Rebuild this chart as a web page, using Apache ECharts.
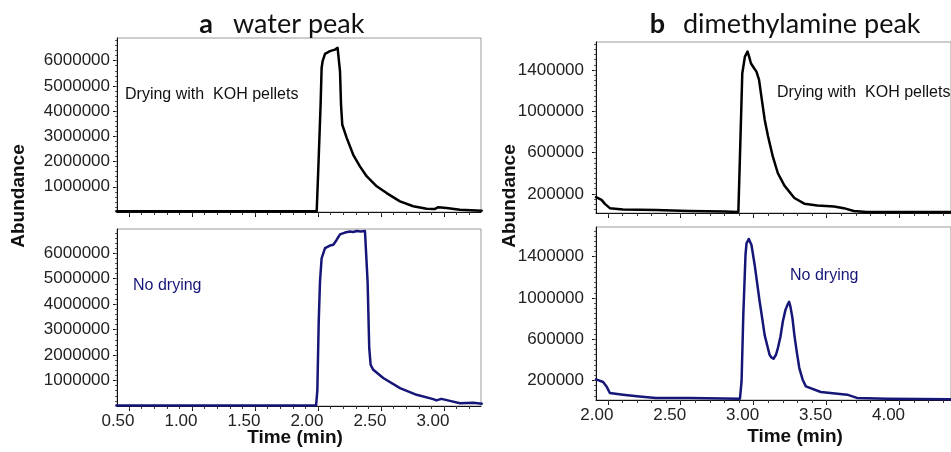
<!DOCTYPE html>
<html>
<head>
<meta charset="utf-8">
<script src="https://cdn.jsdelivr.net/npm/echarts@6.0.0/dist/echarts.min.js"></script>
<style>
html,body{margin:0;padding:0;background:#fff;}
#chart{width:951px;height:452px;}
</style>
</head>
<body>
<div id="chart"></div>
<script>
// ---- data (time in min, abundance) ----
const timeKohWater = [0.40, 1.20, 1.990, 2.002, 2.021, 2.029, 2.037, 2.056, 2.095, 2.135, 2.156, 2.169, 2.175, 2.183, 2.193, 2.228, 2.28, 2.333, 2.386, 2.466, 2.545, 2.651, 2.756, 2.863, 2.929, 2.955, 3.021, 3.127, 3.30];
const kohWater = [25000, 25000, 28000, 1615000, 4260000, 5710000, 5980000, 6270000, 6380000, 6440000, 6510000, 6440000, 5580000, 4260000, 3460000, 2940000, 2270000, 1810000, 1420000, 1020000, 750000, 420000, 230000, 130000, 120000, 190000, 160000, 90000, 50000];

const timeNoDryWater = [0.40, 1.20, 1.985, 1.995, 2.006, 2.016, 2.029, 2.056, 2.095, 2.122, 2.135, 2.148, 2.175, 2.214, 2.254, 2.28, 2.307, 2.34, 2.373, 2.386, 2.394, 2.407, 2.418, 2.439, 2.518, 2.651, 2.783, 2.915, 2.94, 2.98, 3.048, 3.127, 3.233, 3.30];
const noDryWater = [20000, 20000, 20000, 600000, 3300000, 4880000, 5800000, 6200000, 6300000, 6330000, 6350000, 6520000, 6740000, 6810000, 6850000, 6830000, 6870000, 6850000, 6870000, 6850000, 4880000, 2270000, 1620000, 1420000, 1100000, 700000, 440000, 270000, 220000, 280000, 200000, 110000, 130000, 90000];

const timeKohDma = [1.919, 1.957, 1.98, 2.014, 2.104, 2.33, 2.556, 2.80, 2.895, 2.906, 2.922, 2.94, 2.958, 2.969, 2.981, 3.003, 3.019, 3.037, 3.053, 3.076, 3.098, 3.132, 3.166, 3.211, 3.279, 3.347, 3.437, 3.551, 3.618, 3.686, 3.776, 4.36];
const kohDma = [168000, 142000, 103000, 62000, 50000, 45000, 35000, 30000, 25000, 561000, 1368000, 1529000, 1578000, 1529000, 1465000, 1417000, 1384000, 1304000, 1142000, 916000, 760000, 558000, 400000, 280000, 160000, 105000, 87000, 77000, 62000, 35000, 25000, 25000];

const timeNoDryDma = [1.919, 1.927, 1.968, 1.991, 2.014, 2.104, 2.217, 2.33, 2.556, 2.906, 2.917, 2.929, 2.944, 2.951, 2.967, 2.985, 3.007, 3.041, 3.060, 3.075, 3.109, 3.121, 3.136, 3.153, 3.166, 3.184, 3.2, 3.218, 3.234, 3.243, 3.252, 3.266, 3.279, 3.295, 3.313, 3.336, 3.358, 3.46, 3.641, 3.708, 3.912, 4.36];
const noDryDma = [210000, 207000, 185000, 142000, 78000, 62000, 45000, 30000, 30000, 23000, 190000, 836000, 1417000, 1530000, 1572000, 1514000, 1320000, 965000, 788000, 642000, 449000, 423000, 410000, 449000, 514000, 626000, 771000, 884000, 940000, 962000, 916000, 804000, 642000, 481000, 320000, 207000, 142000, 88000, 62000, 30000, 22000, 18000];

// ---- tick labels ----
const xTicksWater = [0.5, 1.0, 1.5, 2.0, 2.5, 3.0];
const xLabelsWater = ['0.50', '1.00', '1.50', '2.00', '2.50', '3.00'];
const xTicksDma = [2.0, 2.5, 3.0, 3.5, 4.0];
const xLabelsDma = ['2.00', '2.50', '3.00', '3.50', '4.00'];
const yTicksWater = [1000000, 2000000, 3000000, 4000000, 5000000, 6000000];
const yLabelsWater = ['1000000', '2000000', '3000000', '4000000', '5000000', '6000000'];
const yTicksDma = [200000, 600000, 1000000, 1400000];
const yLabelsDma = ['200000', '600000', '1000000', '1400000'];

function zip(t, v) { return t.map((x, i) => [x, v[i]]); }
function steps(from, to, step) { const a = []; for (let v = from; v <= to + 1e-9; v += step) a.push(+v.toFixed(6)); return a; }

const FONT = '"Liberation Sans", Arial, sans-serif';
const TFONT = 'Lato, "Open Sans", sans-serif';
const grids = [
  { left: 117, top: 38, width: 364, height: 174 },
  { left: 117, top: 229, width: 364, height: 177 },
  { left: 596, top: 42, width: 359, height: 171 },
  { left: 596, top: 227, width: 359, height: 173 }
];
const xr = [[0.405, 3.294], [0.405, 3.294], [1.919, 4.353], [1.919, 4.353]];
const yr = [[0, 6900000], [0, 6950000], [15000, 1671000], [10000, 1688000]];

const xAxes = [], yAxes = [];
grids.forEach((g, i) => {
  const water = i < 2;
  const xt = water ? xTicksWater : xTicksDma;
  const xl = water ? xLabelsWater : xLabelsDma;
  const yt = water ? yTicksWater : yTicksDma;
  const yl = water ? yLabelsWater : yLabelsDma;
  const showX = (i === 1 || i === 3);
  xAxes.push({
    type: 'value', gridIndex: i, min: xr[i][0], max: xr[i][1], position: 'bottom',
    splitLine: { show: false },
    axisLine: { show: true, onZero: false, lineStyle: { color: '#111', width: 1 } },
    axisTick: { show: true, length: 5, customValues: xt, lineStyle: { color: '#111' } },
    axisLabel: { show: showX, customValues: xt, margin: 7, padding: [0, 22, 0, 0],
      color: '#222', fontFamily: FONT, fontSize: 17,
      formatter: v => xl[xt.findIndex(t => Math.abs(t - v) < 1e-6)] }
  });
  xAxes.push({
    type: 'value', gridIndex: i, min: xr[i][0], max: xr[i][1], position: 'bottom',
    splitLine: { show: false }, axisLine: { show: false },
    axisTick: { show: true, length: 3, customValues: steps(water ? 0.5 : 2.0, water ? 3.2 : 4.3, 0.1), lineStyle: { color: '#333' } },
    axisLabel: { show: false }
  });
  yAxes.push({
    type: 'value', gridIndex: i, min: yr[i][0], max: yr[i][1], position: 'left',
    splitLine: { show: false },
    axisLine: { show: true, onZero: false, lineStyle: { color: '#111', width: 1 } },
    axisTick: { show: true, length: 4, customValues: yt, lineStyle: { color: '#111' } },
    axisLabel: { show: true, customValues: yt, margin: water ? 7 : 12,
      color: '#222', fontFamily: FONT, fontSize: 17,
      formatter: v => yl[yt.findIndex(t => Math.abs(t - v) < 1)] }
  });
  yAxes.push({
    type: 'value', gridIndex: i, min: yr[i][0], max: yr[i][1], position: 'left',
    splitLine: { show: false }, axisLine: { show: false },
    axisTick: { show: true, length: 2, customValues: water ? steps(200000, 6800000, 200000) : steps(50000, 1650000, 50000), lineStyle: { color: '#555' } },
    axisLabel: { show: false }
  });
});

const BLACK = '#000000', NAVY = '#161678';
const seriesDefs = [
  [timeKohWater, kohWater, BLACK],
  [timeNoDryWater, noDryWater, NAVY],
  [timeKohDma, kohDma, BLACK],
  [timeNoDryDma, noDryDma, NAVY]
];
const series = seriesDefs.map((d, i) => ({
  type: 'line', xAxisIndex: i * 2, yAxisIndex: i * 2, data: zip(d[0], d[1]),
  showSymbol: false, smooth: false, clip: true,
  lineStyle: { color: d[2], width: 2.5, join: 'round', cap: 'round' }, itemStyle: { color: d[2] }, z: 3
}));

function txt(x, y, text, opts) {
  return Object.assign({ type: 'text', x: x, y: y, silent: true,
    style: Object.assign({ text: text, textAlign: 'left', textVerticalAlign: 'middle', fill: '#111', font: '16px ' + FONT }, opts || {}) });
}

const graphic = [
  txt(213, 24, 'a', { textAlign: 'right', font: 'bold 27px ' + TFONT, fill: '#111' }),
  txt(233, 24, 'water peak', { font: '27px ' + TFONT, fill: '#111' }),
  txt(665, 24, 'b', { textAlign: 'right', font: 'bold 27px ' + TFONT, fill: '#111' }),
  txt(683, 24, 'dimethylamine peak', { font: '27px ' + TFONT, fill: '#111' }),
  txt(125, 95, 'Drying with  KOH pellets'),
  txt(133, 286, 'No drying', { fill: NAVY }),
  txt(777, 93, 'Drying with  KOH pellets'),
  txt(790, 276, 'No drying', { fill: NAVY }),
  txt(295, 438, 'Time (min)', { textAlign: 'center', font: 'bold 19px ' + FONT }),
  txt(795, 437, 'Time (min)', { textAlign: 'center', font: 'bold 19px ' + FONT }),
  Object.assign(txt(19, 196, 'Abundance', { textAlign: 'center', font: 'bold 19px ' + FONT }), { rotation: Math.PI / 2 }),
  Object.assign(txt(510, 196, 'Abundance', { textAlign: 'center', font: 'bold 19px ' + FONT }), { rotation: Math.PI / 2 })
];

const chart = echarts.init(document.getElementById('chart'), null, { renderer: 'canvas' });
chart.setOption({
  animation: false,
  backgroundColor: '#ffffff',
  grid: grids.map(g => Object.assign({ show: true, borderColor: '#9a9a9a', borderWidth: 1, backgroundColor: 'transparent' }, g)),
  xAxis: xAxes,
  yAxis: yAxes,
  series: series,
  graphic: graphic
});
</script>
</body>
</html>
